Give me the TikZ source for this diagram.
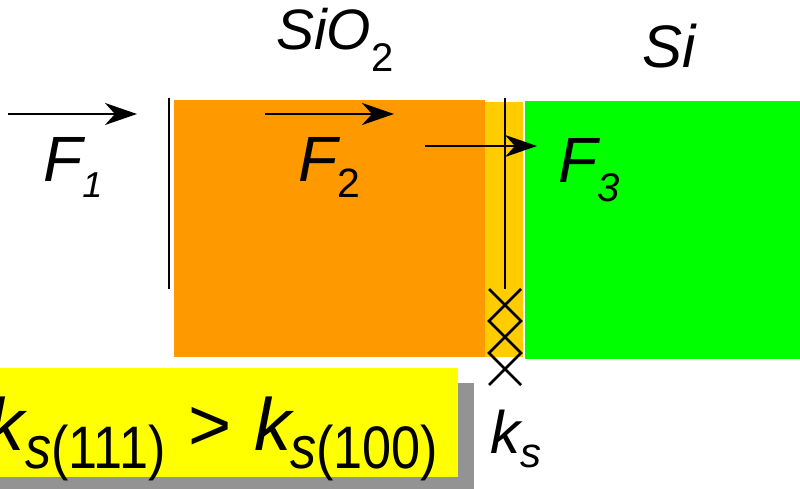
\documentclass[tikz,border=0pt]{standalone}
\usepackage{fontspec}
\setmainfont{Liberation Sans}
\usepackage{graphicx}
\usetikzlibrary{arrows.meta}
\definecolor{oxorange}{HTML}{FF9900}
\definecolor{ifgold}{HTML}{FFCC00}
\definecolor{sigreen}{HTML}{00FF00}
\definecolor{noteyellow}{HTML}{FFFF00}
\definecolor{shadowgray}{HTML}{939393}
\newcommand{\pxfont}[1]{\fontsize{#1}{#1}\selectfont}

\begin{document}
\begin{tikzpicture}[
  x=1pt, y=-1pt,
  flux/.style={-{Stealth[length=32pt,width=22pt,inset=10pt]}, line width=2.6pt},
  wall/.style={line width=2.6pt},
  lbl/.style={inner sep=0pt, anchor=base west}
]
\useasboundingbox (0,0) rectangle (800,489);

% layers
\fill[ifgold] (482,102) rectangle (523,357);
\fill[oxorange] (174,100) rectangle (485,357);
\fill[sigreen] (525,101) rectangle (800,359);

% note box with shadow
\fill[shadowgray] (-10,383) rectangle (474,500);
\fill[noteyellow] (-10,368) rectangle (458,477);

% interfaces
\draw[wall] (169,98) -- (169,289);
\draw[wall] (505,98) -- (505,289);
\draw[wall] (489,289) -- (521,321) -- (489,353) -- (521,385);
\draw[wall] (521,289) -- (489,321) -- (521,353) -- (489,385);

% fluxes
\coordinate (f1a) at (8,114);   \coordinate (f1b) at (137,114);
\coordinate (f2a) at (265,114); \coordinate (f2b) at (394,114);
\coordinate (f3a) at (425,146); \coordinate (f3b) at (537,146);
\draw[flux] (f1a) -- (f1b);
\draw[flux] (f2a) -- (f2b);
\draw[flux] (f3a) -- (f3b);

% labels
\node[lbl, font=\pxfont{57}\itshape] (oxide) at (276,50) {SiO\raisebox{-22pt}{\pxfont{40}\upshape 2}};
\node[lbl, font=\pxfont{60}\itshape] (silicon) at (642,68) {Si};
\node[lbl, font=\pxfont{64}\itshape] (F1) at (43,182) {F\raisebox{-16pt}{\pxfont{36}1}};
\node[lbl, font=\pxfont{64}\itshape] (F2) at (298,182) {F\raisebox{-16pt}{\pxfont{41}\upshape 2}};
\node[lbl, font=\pxfont{64}\itshape] (F3) at (558,183) {F\raisebox{-18pt}{\pxfont{40}3}};
\node[lbl, font=\pxfont{60}\itshape] (ks) at (490,453) {k\raisebox{-14pt}{\pxfont{42}s}};

% k_s(111) > k_s(100)
\node[lbl, font=\pxfont{74}\itshape] (rk1) at (-13,450) {k};
\node[lbl, font=\pxfont{60}\itshape] (rs1) at (25,468) {\scalebox{0.87}[1]{s\upshape(111)}};
\node[lbl, font=\pxfont{74}] (rgt) at (188,450) {>};
\node[lbl, font=\pxfont{74}\itshape] (rk2) at (254,450) {k};
\node[lbl, font=\pxfont{60}\itshape] (rs2) at (290,468) {\scalebox{0.87}[1]{s\upshape(100)}};
\end{tikzpicture}
\end{document}
